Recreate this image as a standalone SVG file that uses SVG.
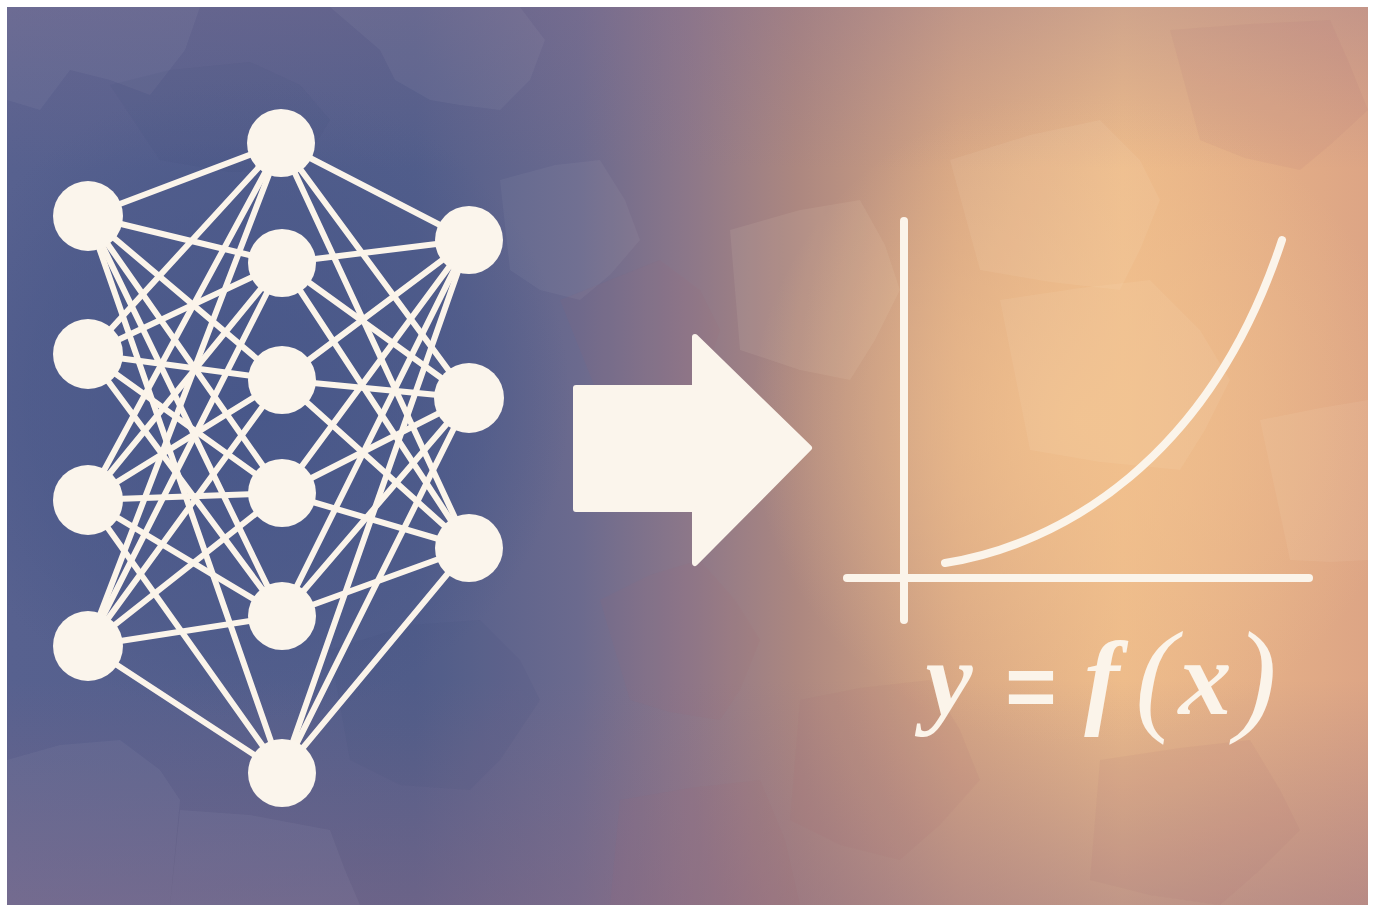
<svg xmlns="http://www.w3.org/2000/svg" width="1375" height="910" viewBox="0 0 1375 910">
<defs>
<linearGradient id="bgH" x1="0" y1="0" x2="1" y2="0">
<stop offset="0" stop-color="#57618F"/>
<stop offset="0.3" stop-color="#525E8B"/>
<stop offset="0.42" stop-color="#6B6A8E"/>
<stop offset="0.5" stop-color="#8C7789"/>
<stop offset="0.58" stop-color="#AC8780"/>
<stop offset="0.7" stop-color="#D8A784"/>
<stop offset="0.82" stop-color="#EDBB8A"/>
<stop offset="1" stop-color="#DDA585"/>
</linearGradient>
<radialGradient id="blueCore" cx="250" cy="400" r="320" gradientUnits="userSpaceOnUse">
<stop offset="0" stop-color="#465689" stop-opacity="0.85"/>
<stop offset="0.7" stop-color="#485789" stop-opacity="0.45"/>
<stop offset="1" stop-color="#485789" stop-opacity="0"/>
</radialGradient>
<radialGradient id="peachCore" cx="1080" cy="420" r="330" gradientUnits="userSpaceOnUse">
<stop offset="0" stop-color="#F2C18E" stop-opacity="0.85"/>
<stop offset="1" stop-color="#F2C18E" stop-opacity="0"/>
</radialGradient>
<linearGradient id="bgV" x1="0" y1="0" x2="0" y2="1">
<stop offset="0" stop-color="#8A7090" stop-opacity="0.3"/>
<stop offset="0.18" stop-color="#8A7090" stop-opacity="0"/>
<stop offset="0.75" stop-color="#8A6A84" stop-opacity="0"/>
<stop offset="1" stop-color="#8A6A84" stop-opacity="0.45"/>
</linearGradient>
<style>
.edge{stroke:#FBF4EA;stroke-width:6;stroke-linecap:round;fill:none}
.node{fill:#FBF5EC}
.axis{stroke:#FBF4EA;stroke-width:8;stroke-linecap:round;fill:none}
.eq{font-family:"Liberation Serif","Times New Roman",serif;font-style:italic;font-weight:bold;fill:#FBF4EA;text-anchor:middle}
.eqs{font-family:"Liberation Sans",Arial,sans-serif;font-weight:bold;fill:#FBF4EA;text-anchor:middle}
.par{font-family:"Liberation Serif","Times New Roman",serif;font-style:italic;font-weight:normal;fill:#FBF4EA;text-anchor:middle}
.patchL{fill:#FFFFFF;opacity:0.045}
.patchD{fill:#3A4070;opacity:0.07}
.patchW{fill:#FFF0D8;opacity:0.08}
.patchR{fill:#A06870;opacity:0.08}
</style>
</defs>
<rect width="1375" height="910" fill="#FFFFFF"/>
<g id="background">
<rect x="7" y="7" width="1361" height="898" fill="url(#bgH)"/>
<rect x="7" y="7" width="1361" height="898" fill="url(#blueCore)"/>
<rect x="7" y="7" width="1361" height="898" fill="url(#peachCore)"/>
<rect x="7" y="7" width="1361" height="898" fill="url(#bgV)"/>
<polygon class="patchL" points="7,7 200,7 185,50 150,95 110,80 70,70 40,110 7,100"/>
<polygon class="patchL" points="330,7 520,7 545,40 530,80 500,110 460,105 430,100 395,80 380,50"/>
<polygon class="patchL" points="7,760 60,745 120,740 160,770 180,800 170,905 7,905"/>
<polygon class="patchL" points="180,810 250,815 330,830 345,870 360,905 170,905"/>
<polygon class="patchD" points="110,85 170,70 250,62 300,85 330,120 300,170 230,172 160,160"/>
<polygon class="patchD" points="330,650 410,625 480,620 520,660 540,700 500,760 470,790 400,785 350,760"/>
<polygon class="patchL" points="500,180 555,165 600,160 625,200 640,240 610,275 580,300 540,290 510,270"/>
<polygon class="patchR" points="560,300 610,280 660,260 700,290 720,330 705,375 690,420 640,410 600,400"/>
<polygon class="patchR" points="600,600 650,575 700,560 735,600 760,640 740,690 720,720 670,712 630,700"/>
<polygon class="patchW" points="730,230 800,210 860,200 885,245 900,290 875,340 850,380 800,370 740,350"/>
<polygon class="patchW" points="950,160 1030,135 1100,120 1140,160 1160,200 1140,250 1120,290 1050,282 980,270"/>
<polygon class="patchW" points="1000,300 1080,288 1150,280 1200,330 1230,380 1205,430 1180,470 1100,462 1030,450"/>
<polygon class="patchR" points="1170,30 1250,24 1330,20 1350,65 1368,110 1330,145 1300,170 1245,158 1200,140"/>
<polygon class="patchR" points="800,700 860,688 930,680 960,730 980,780 940,825 900,860 840,845 790,820"/>
<polygon class="patchR" points="1100,760 1180,748 1250,740 1280,790 1300,830 1260,870 1220,905 1150,895 1090,880"/>
<polygon class="patchW" points="1260,420 1320,408 1368,400 1368,560 1330,562 1290,560 1275,490"/>
<polygon class="patchR" points="620,800 690,788 760,780 785,840 800,905 610,905"/>
</g>
<g id="connectors">
<line class="edge" x1="88" y1="216" x2="281" y2="143"/>
<line class="edge" x1="88" y1="216" x2="282" y2="263"/>
<line class="edge" x1="88" y1="216" x2="282" y2="380"/>
<line class="edge" x1="88" y1="216" x2="282" y2="493"/>
<line class="edge" x1="88" y1="216" x2="282" y2="616"/>
<line class="edge" x1="88" y1="216" x2="282" y2="773"/>
<line class="edge" x1="88" y1="354" x2="281" y2="143"/>
<line class="edge" x1="88" y1="354" x2="282" y2="263"/>
<line class="edge" x1="88" y1="354" x2="282" y2="380"/>
<line class="edge" x1="88" y1="354" x2="282" y2="493"/>
<line class="edge" x1="88" y1="354" x2="282" y2="616"/>
<line class="edge" x1="88" y1="500" x2="281" y2="143"/>
<line class="edge" x1="88" y1="500" x2="282" y2="263"/>
<line class="edge" x1="88" y1="500" x2="282" y2="380"/>
<line class="edge" x1="88" y1="500" x2="282" y2="493"/>
<line class="edge" x1="88" y1="500" x2="282" y2="616"/>
<line class="edge" x1="88" y1="500" x2="282" y2="773"/>
<line class="edge" x1="88" y1="646" x2="281" y2="143"/>
<line class="edge" x1="88" y1="646" x2="282" y2="263"/>
<line class="edge" x1="88" y1="646" x2="282" y2="380"/>
<line class="edge" x1="88" y1="646" x2="282" y2="493"/>
<line class="edge" x1="88" y1="646" x2="282" y2="616"/>
<line class="edge" x1="88" y1="646" x2="282" y2="773"/>
<line class="edge" x1="281" y1="143" x2="469" y2="240"/>
<line class="edge" x1="281" y1="143" x2="469" y2="398"/>
<line class="edge" x1="281" y1="143" x2="469" y2="548"/>
<line class="edge" x1="282" y1="263" x2="469" y2="240"/>
<line class="edge" x1="282" y1="263" x2="469" y2="398"/>
<line class="edge" x1="282" y1="263" x2="469" y2="548"/>
<line class="edge" x1="282" y1="380" x2="469" y2="240"/>
<line class="edge" x1="282" y1="380" x2="469" y2="398"/>
<line class="edge" x1="282" y1="380" x2="469" y2="548"/>
<line class="edge" x1="282" y1="493" x2="469" y2="240"/>
<line class="edge" x1="282" y1="493" x2="469" y2="398"/>
<line class="edge" x1="282" y1="493" x2="469" y2="548"/>
<line class="edge" x1="282" y1="616" x2="469" y2="240"/>
<line class="edge" x1="282" y1="616" x2="469" y2="398"/>
<line class="edge" x1="282" y1="616" x2="469" y2="548"/>
<line class="edge" x1="282" y1="773" x2="469" y2="240"/>
<line class="edge" x1="282" y1="773" x2="469" y2="398"/>
<line class="edge" x1="282" y1="773" x2="469" y2="548"/>
</g>
<g id="node-L1"><circle class="node" cx="88" cy="216" r="35"/></g>
<g id="node-L2"><circle class="node" cx="88" cy="354" r="35"/></g>
<g id="node-L3"><circle class="node" cx="88" cy="500" r="35"/></g>
<g id="node-L4"><circle class="node" cx="88" cy="646" r="35"/></g>
<g id="node-M1"><circle class="node" cx="281" cy="143" r="34"/></g>
<g id="node-M2"><circle class="node" cx="282" cy="263" r="34"/></g>
<g id="node-M3"><circle class="node" cx="282" cy="380" r="34"/></g>
<g id="node-M4"><circle class="node" cx="282" cy="493" r="34"/></g>
<g id="node-M5"><circle class="node" cx="282" cy="616" r="34"/></g>
<g id="node-M6"><circle class="node" cx="282" cy="773" r="34"/></g>
<g id="node-R1"><circle class="node" cx="469" cy="240" r="34"/></g>
<g id="node-R2"><circle class="node" cx="469" cy="398" r="35"/></g>
<g id="node-R3"><circle class="node" cx="469" cy="548" r="34"/></g>
<g id="arrow">
<path d="M576,388 H695 V337 L809,448 L695,563 V509 H576 Z" fill="#FBF5EC" stroke="#FBF5EC" stroke-width="6" stroke-linejoin="round"/>
</g>
<g id="graph">
<line class="axis" x1="904" y1="221" x2="904" y2="620"/>
<line class="axis" x1="847" y1="578" x2="1309" y2="578"/>
<path class="axis" d="M945,563 C1060,545 1210,460 1282,240"/>
</g>
<g id="formula">
<text class="eq" x="949" y="714" font-size="106">y</text>
<text class="eqs" x="1031" y="716" font-size="88">=</text>
<text class="eq" x="1102" y="714" font-size="106">f</text>
<text class="par" x="1156" y="718" font-size="124">(</text>
<text class="eq" x="1205" y="714" font-size="106">x</text>
<text class="par" x="1256" y="718" font-size="124">)</text>
</g>
</svg>
